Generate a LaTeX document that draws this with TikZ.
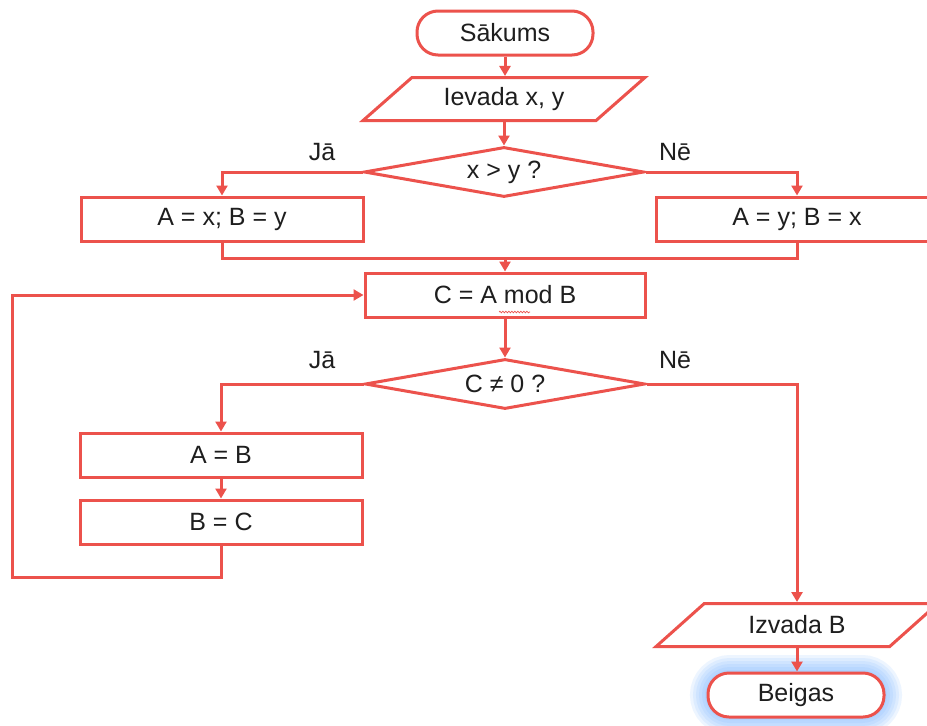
\documentclass[tikz,border=0pt]{standalone}
\usepackage{fontspec}
\setmainfont{Liberation Sans}
\usetikzlibrary{arrows.meta,shapes.geometric,decorations.pathmorphing}
\definecolor{fc}{RGB}{236,82,76}
\definecolor{tc}{RGB}{30,30,30}
\definecolor{glowc}{RGB}{110,175,255}
\begin{document}
\begin{tikzpicture}[x=1pt,y=-1pt,
 font=\fontsize{25}{29}\selectfont, text=tc,
 box/.style={draw=fc, line width=3pt, fill=white, minimum width=282pt, minimum height=44pt, inner sep=0pt},
 term/.style={draw=fc, line width=3pt, fill=white, rounded corners=21pt, minimum width=176pt, minimum height=44pt, inner sep=0pt},
 io/.style={trapezium, trapezium left angle=36, trapezium right angle=144, trapezium stretches=true, draw=fc, line width=3pt, fill=white, minimum width=282pt, minimum height=43pt, inner sep=0pt},
 dec/.style={diamond, aspect=5.6, draw=fc, line width=3pt, fill=white, minimum width=280pt, minimum height=50pt, inner sep=0pt},
 conn/.style={draw=fc, line width=3pt},
 arr/.style={conn, -{Triangle[length=10pt,width=11pt]}},
 lab/.style={inner sep=0pt}]
\useasboundingbox (0,0) rectangle (927,726);
\clip (0,0) rectangle (927,726);
\fill[white] (0,0) rectangle (927,726);

% nodes
\node[term] (s) at (505,33) {Sākums};
\node[io] (in) at (504,99) {Ievada x, y};
\node[dec] (d1) at (504,172) {x > y ?};
\node[box] (b1) at (222,219) {A = x; B = y};
\node[box] (b2) at (797,219) {A = y; B = x};
\coordinate (m) at (505,258);
\node[box, minimum width=280pt] (c) at (505,295) {C = A mod B};
\node[dec] (d2) at (505,384) {C ≠ 0 ?};
\node[box] (ab) at (221,455) {A = B};
\node[box] (bc) at (221,522) {B = C};
\node[io] (out) at (797,625) {Izvada B};

% glow behind end terminal
\foreach \w in {36,30,24,18,12,6}
  \draw[glowc, opacity=0.12, line width=\w pt, rounded corners=22pt] (708,673) rectangle (884,717);
\node[term] (e) at (796,695) {Beigas};

% labels
\node[lab] (j1) at (322,152) {Jā};
\node[lab] (n1) at (675,152) {Nē};
\node[lab] (j2) at (322,360) {Jā};
\node[lab] (n2) at (675,360) {Nē};

% connectors
\draw[arr] (s.south) -- (s.south |- in.north);
\draw[arr] (in.south -| d1.north) -- (d1.north);
\draw[arr] (d1.west) -| (b1.north);
\draw[arr] (d1.east) -| (b2.north);
\draw[conn] (b1.south) |- (m);
\draw[conn] (b2.south) |- (m);
\draw[arr] (m) -- (c.north -| m);
\draw[arr] (c.south) -- (d2.north);
\draw[arr] (d2.west) -| (ab.north);
\draw[arr] (ab.south) -- (bc.north);
\coordinate (lp) at (12,577);
\draw[arr] (bc.south) |- (lp) |- (c.west);
\draw[arr] (d2.east) -| (out.north);
\draw[arr] (out.south) -- (out.south |- e.north);

% spell-check squiggle under "mod"
\draw[fc, line width=0.7pt, decorate, decoration={snake, amplitude=0.8pt, segment length=3pt}] (499,312) -- (530,312);
\end{tikzpicture}
\end{document}
